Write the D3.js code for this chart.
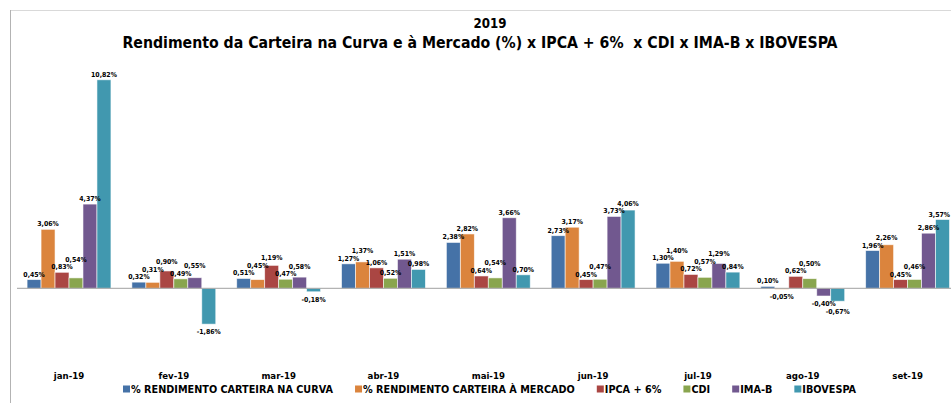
<!DOCTYPE html>
<html>
<head>
<meta charset="utf-8">
<script src="https://cdn.jsdelivr.net/npm/d3@7/dist/d3.min.js"></script>
<style>
  html, body { margin: 0; padding: 0; background: #ffffff; }
  svg { display: block; }
  text { font-family: "DejaVu Sans", Verdana, sans-serif; font-weight: bold; fill: #000; }
  .title { font-family: "DejaVu Sans Condensed", "DejaVu Sans", sans-serif; white-space: pre; }
  .vlabel { font-family: "DejaVu Sans Condensed", "DejaVu Sans", sans-serif; }
</style>
</head>
<body>
<svg id="chart" width="951" height="403"></svg>
<script>
// Monthly returns (%) for 2019
const months = ["jan-19", "fev-19", "mar-19", "abr-19", "mai-19", "jun-19", "jul-19", "ago-19", "set-19"];
const seriesNames = [
  "% RENDIMENTO CARTEIRA NA CURVA",
  "% RENDIMENTO CARTEIRA À MERCADO",
  "IPCA + 6%",
  "CDI",
  "IMA-B",
  "IBOVESPA"
];
const carteiraCurva   = [0.45, 0.32, 0.51, 1.27, 2.38, 2.73, 1.30, 0.10, 1.96];
const carteiraMercado = [3.06, 0.31, 0.45, 1.37, 2.82, 3.17, 1.40, -0.05, 2.26];
const ipca6           = [0.83, 0.90, 1.19, 1.06, 0.64, 0.45, 0.72, 0.62, 0.45];
const cdi             = [0.54, 0.49, 0.47, 0.52, 0.54, 0.47, 0.57, 0.50, 0.46];
const imaB            = [4.37, 0.55, 0.58, 1.51, 3.66, 3.73, 1.29, -0.40, 2.86];
const ibovespa        = [10.82, -1.86, -0.18, 0.98, 0.70, 4.06, 0.84, -0.67, 3.57];
const seriesValues = [carteiraCurva, carteiraMercado, ipca6, cdi, imaB, ibovespa];
const colors = ["#4572A7", "#DB843D", "#AA4643", "#89A54E", "#71588F", "#4198AF"];

const titleLine1 = "2019";
const titleLine2 = "Rendimento da Carteira na Curva e à Mercado (%) x IPCA + 6%  x CDI x IMA-B x IBOVESPA";

const svg = d3.select("#chart");
const W = 951, H = 403;

// Outer frame (top and left edges of the chart container)
svg.append("line").attr("x1", 10).attr("y1", 10.5).attr("x2", W).attr("y2", 10.5)
  .attr("stroke", "#d9d9d9").attr("stroke-width", 1);
svg.append("line").attr("x1", 10.5).attr("y1", 10).attr("x2", 10.5).attr("y2", H)
  .attr("stroke", "#b3b3b3").attr("stroke-width", 1);

// Titles, sized to their set widths
function fitText(sel, targetWidth, base) {
  sel.style("font-size", base + "px");
  const w = sel.node().getComputedTextLength();
  sel.style("font-size", (base * targetWidth / w) + "px");
}
const t1 = svg.append("text").attr("class", "title").attr("x", 490).attr("y", 27.5)
  .attr("text-anchor", "middle").text(titleLine1);
fitText(t1, 33, 13);
const t2 = svg.append("text").attr("class", "title").attr("x", 480).attr("y", 47.5)
  .attr("text-anchor", "middle").text(titleLine2);
fitText(t2, 716, 13);

// Scales
const x0 = d3.scaleBand().domain(months).range([16.6, 960]).paddingInner(0.2).paddingOuter(0.1);
const x1 = d3.scaleBand().domain(d3.range(seriesNames.length)).range([0, x0.bandwidth()]);
const zeroY = 288.3, pxPerPct = 19.27;
const y = d3.scaleLinear().domain([-3.5, 11]).range([zeroY + 3.5 * pxPerPct, zeroY - 11 * pxPerPct]);

// Bars
const groups = svg.append("g").selectAll("g").data(months).join("g")
  .attr("transform", d => `translate(${x0(d)},0)`);

groups.each(function(m, mi) {
  const g = d3.select(this);
  seriesValues.forEach((vals, si) => {
    const v = vals[mi];
    g.append("rect")
      .attr("x", x1(si))
      .attr("y", y(Math.max(0, v)))
      .attr("width", x1.bandwidth())
      .attr("height", Math.abs(y(v) - y(0)))
      .attr("fill", colors[si])
      .attr("stroke", "rgba(255,255,255,0.7)")
      .attr("stroke-width", 0.8);
  });
});

// Zero axis
svg.append("line").attr("x1", 17).attr("x2", W).attr("y1", y(0)).attr("y2", y(0))
  .attr("stroke", "#a0a0a0").attr("stroke-width", 1);

// Data labels: placed at the bar end, then stacked upward (or downward for
// negatives) when they would collide with a label already placed in the group
const fmt = v => v.toFixed(2).replace(".", ",") + "%";
const labelSize = 6.9, labelH = 7.5;
groups.each(function(m, mi) {
  const g = d3.select(this);
  const gx = x0(m);
  const placed = [];
  seriesValues.forEach((vals, si) => {
    const v = vals[mi];
    const t = g.append("text")
      .attr("class", "vlabel")
      .attr("text-anchor", "middle")
      .style("font-size", labelSize + "px")
      .text(fmt(v));
    const w = t.node().getComputedTextLength();
    let cx = x1(si) + x1.bandwidth() / 2;
    // keep inside the right edge of the page
    if (gx + cx + w / 2 > W - 1) cx = W - 1 - w / 2 - gx;
    let by = v >= 0 ? y(v) - 3 : y(v) + 10;
    let moved = true, guard = 0;
    while (moved && guard++ < 10) {
      moved = false;
      for (const p of placed) {
        const hOverlap = Math.abs(p.cx - cx) < (p.w + w) / 2 - 1;
        const vOverlap = Math.abs(p.by - by) < labelH;
        if (hOverlap && vOverlap) {
          by = v >= 0 ? p.by - labelH : p.by + labelH;
          moved = true;
        }
      }
    }
    placed.push({ cx, by, w });
    t.attr("x", cx).attr("y", by);
  });
});

// Category axis labels
svg.append("g").selectAll("text").data(months).join("text")
  .attr("x", d => x0(d) + x0.bandwidth() / 2)
  .attr("y", 379)
  .attr("text-anchor", "middle")
  .style("font-size", "8.6px")
  .text(d => d);

// Legend
const legend = svg.append("g").attr("transform", "translate(123,392)");
let lx = 0;
seriesNames.forEach((name, i) => {
  const item = legend.append("g").attr("transform", `translate(${lx},0)`);
  item.append("rect").attr("x", 0).attr("y", -6.5).attr("width", 7).attr("height", 7).attr("fill", colors[i]);
  const t = item.append("text").attr("x", 8).attr("y", 0.5).style("font-size", "9.7px").text(name);
  lx += 8 + t.node().getComputedTextLength() + 22;
});
</script>
</body>
</html>
